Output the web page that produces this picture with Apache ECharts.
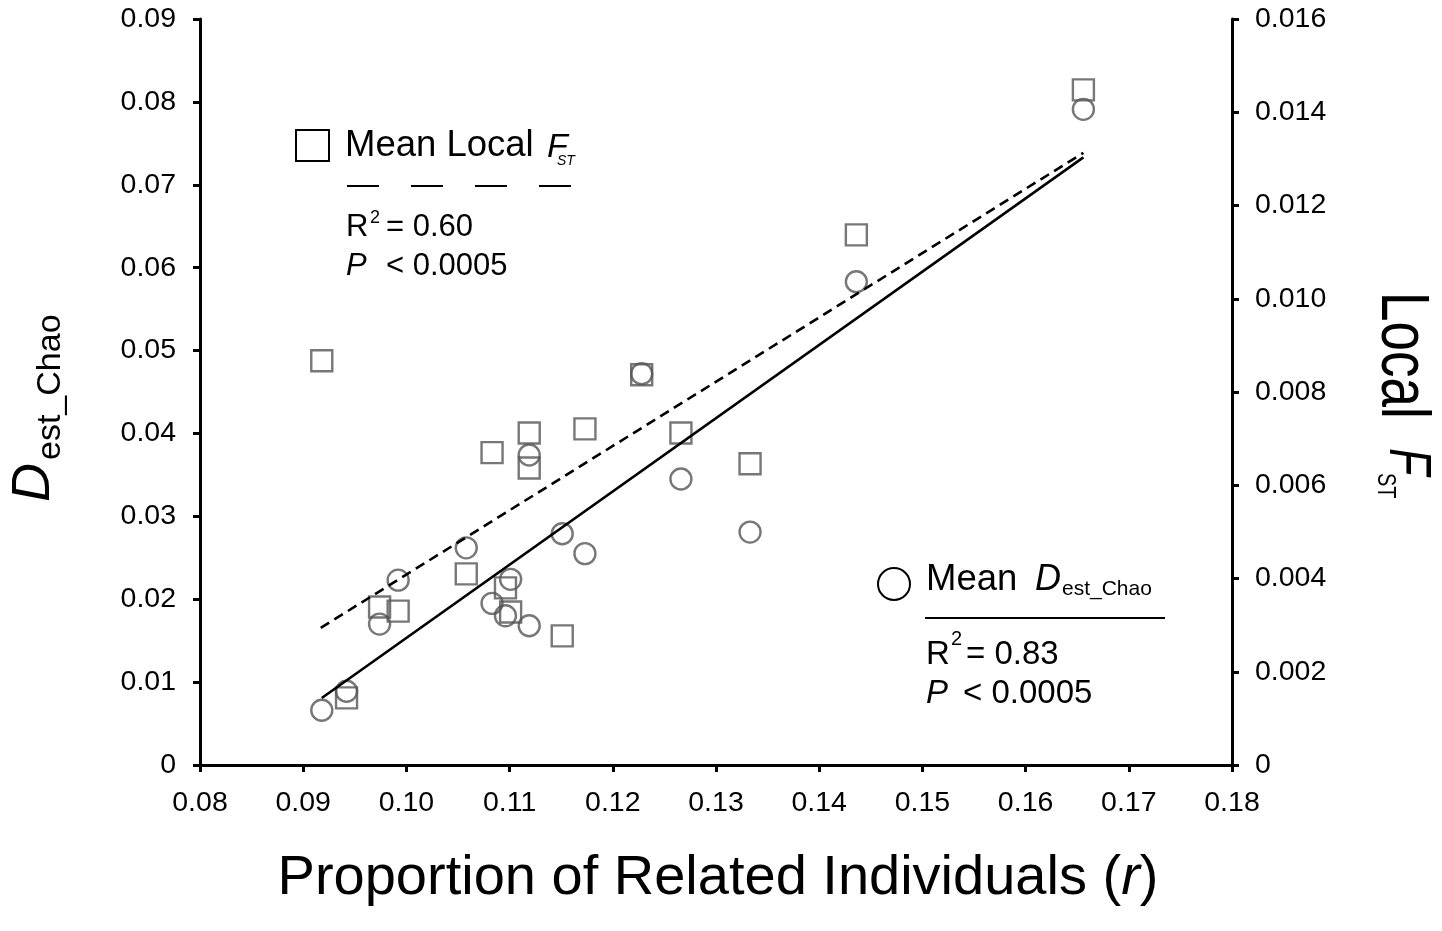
<!DOCTYPE html>
<html><head><meta charset="utf-8">
<script src="https://cdn.jsdelivr.net/npm/echarts@6/dist/echarts.min.js"></script>
<style>html,body{margin:0;padding:0;background:#fff}#c{width:1442px;height:931px}</style>
</head><body><div id="c"></div>
<script>
const FONT = "'Liberation Sans', Arial, Helvetica, sans-serif";

// Proportion of related individuals (r) per site
const relatedness = [0.0918, 0.0942, 0.0974, 0.0992, 0.1058, 0.1083, 0.1096, 0.1101, 0.1119, 0.1119, 0.1151, 0.1173, 0.1228, 0.1266, 0.1333, 0.1436, 0.1656];
// Mean D_est_Chao (left axis)
const dChao = [0.0066, 0.0089, 0.0170, 0.0223, 0.0262, 0.0195, 0.0180, 0.0224, 0.0168, 0.0374, 0.0279, 0.0255, 0.0472, 0.0345, 0.0281, 0.0583, 0.0791];
// Mean local FST (right axis)
const localFst = [0.00867, 0.00144, 0.00339, 0.00330, 0.00410, 0.00670, 0.00380, 0.00328, 0.00637, 0.00712, 0.00277, 0.00721, 0.00837, 0.00712, 0.00646, 0.01137, 0.01448];

// regression lines (end points)
const dFitR = [0.0918, 0.1656];
const dFitY = [0.00808, 0.0733];
const fstFitR = [0.0917, 0.1656];
const fstFitY = [0.00294, 0.01313];

// axis ranges
const xRange = {min: 0.08, max: 0.18, interval: 0.01};
const yLeftRange = {min: 0, max: 0.09, interval: 0.01};
const yRightRange = {min: 0, max: 0.016, interval: 0.002};

const zip = (a, b) => a.map((v, i) => [v, b[i]]);

function t(x, base, text, size, italic, extra) {
  return Object.assign({
    type: 'text', x: x, y: base - 0.35 * size, z: 100,
    style: {text: text, fontSize: size, fontFamily: FONT, fill: '#000',
      fontStyle: italic ? 'italic' : 'normal', verticalAlign: 'middle', textAlign: 'left'}
  }, extra || {});
}

const axisCommon = {
  axisLine: {show: true, onZero: false, lineStyle: {color: '#000', width: 3}},
  axisTick: {show: true, inside: false, length: 7, lineStyle: {color: '#000', width: 3}},
  splitLine: {show: false},
};
const LBL = 28.5;

const chart = echarts.init(document.getElementById('c'), null, {renderer: 'canvas'});
chart.setOption({
  animation: false,
  backgroundColor: '#fff',
  grid: {left: 200, right: 210, top: 19, bottom: 166},
  xAxis: Object.assign({
    type: 'value', min: xRange.min, max: xRange.max, interval: xRange.interval,
    axisLabel: {fontSize: LBL, color: '#000', fontFamily: FONT, margin: 24, formatter: v => v.toFixed(2)}
  }, axisCommon),
  yAxis: [
    Object.assign({
      type: 'value', position: 'left', min: yLeftRange.min, max: yLeftRange.max, interval: yLeftRange.interval,
      axisLabel: {fontSize: LBL, color: '#000', fontFamily: FONT, margin: 24, formatter: v => v === 0 ? '0' : v.toFixed(2)}
    }, axisCommon),
    Object.assign({
      type: 'value', position: 'right', min: yRightRange.min, max: yRightRange.max, interval: yRightRange.interval,
      axisLabel: {fontSize: LBL, color: '#000', fontFamily: FONT, margin: 23, formatter: v => v === 0 ? '0' : v.toFixed(3)}
    }, axisCommon)
  ],
  series: [
    {type: 'line', yAxisIndex: 0, data: zip(dFitR, dFitY), symbol: 'none', silent: true,
      lineStyle: {color: '#000', width: 2.6, type: 'solid'}, z: 3},
    {type: 'line', yAxisIndex: 1, data: zip(fstFitR, fstFitY), symbol: 'none', silent: true,
      lineStyle: {color: '#000', width: 2.6, type: [10, 6]}, z: 3},
    {type: 'scatter', yAxisIndex: 0, data: zip(relatedness, dChao), symbol: 'circle', symbolSize: 21,
      itemStyle: {color: 'rgba(0,0,0,0)', borderColor: '#555', borderWidth: 2.4}, z: 2},
    {type: 'scatter', yAxisIndex: 1, data: zip(relatedness, localFst), symbol: 'rect', symbolSize: 21,
      itemStyle: {color: 'rgba(0,0,0,0)', borderColor: '#555', borderWidth: 2.4}, z: 2}
  ],
  graphic: [
    // legend 1 (local FST)
    {type: 'rect', shape: {x: 296, y: 130, width: 33, height: 31}, style: {fill: 'none', stroke: '#000', lineWidth: 2}},
    t(345, 159, 'Mean Local', 36.5),
    t(547, 159, 'F', 34, true),
    t(557, 166, 'ST', 14, true),
    {type: 'line', shape: {x1: 347, y1: 186, x2: 573, y2: 186}, style: {stroke: '#000', lineWidth: 2, lineDash: [32, 32]}},
    t(346, 238, 'R', 31), t(370, 224, '2', 18), t(386, 238, '= 0.60', 31),
    t(346, 277, 'P', 31, true), t(386, 277, '< 0.0005', 31),
    // legend 2 (D est Chao)
    {type: 'circle', shape: {cx: 894, cy: 584, r: 16}, style: {fill: 'none', stroke: '#000', lineWidth: 2}},
    t(926, 593, 'Mean', 36.5),
    t(1035, 593, 'D', 36, true),
    t(1062, 597, 'est_Chao', 21),
    {type: 'line', shape: {x1: 925, y1: 618, x2: 1165, y2: 618}, style: {stroke: '#000', lineWidth: 2}},
    t(926, 666, 'R', 33), t(951, 646, '2', 20), t(966, 666, '= 0.83', 33),
    t(926, 705, 'P', 33, true), t(963, 705, '< 0.0005', 33),
    // x axis title
    {type: 'text', x: 718, y: 898 - 0.35 * 56, z: 100, style: {
      text: '{n|Proportion of Related Individuals (}{i|r}{n|)}', textAlign: 'center', verticalAlign: 'middle', fill: '#000',
      rich: {n: {fontSize: 56, fontFamily: FONT, fill: '#000'}, i: {fontSize: 56, fontFamily: FONT, fontStyle: 'italic', fill: '#000'}}}},
    // left axis title
    {type: 'group', x: 53, y: 502, rotation: Math.PI / 2, children: [
      t(0, 0, 'D', 54, true),
      t(42, 10, 'est_Chao', 34)
    ]},
    // right axis title
    {type: 'group', x: 1377, y: 292, rotation: -Math.PI / 2, scaleY: 1.3, children: [
      t(0, 0, 'Local', 53),
      t(156, -7, 'F', 45, true),
      t(181, 1, 'ST', 20)
    ]}
  ]
});
</script></body></html>
